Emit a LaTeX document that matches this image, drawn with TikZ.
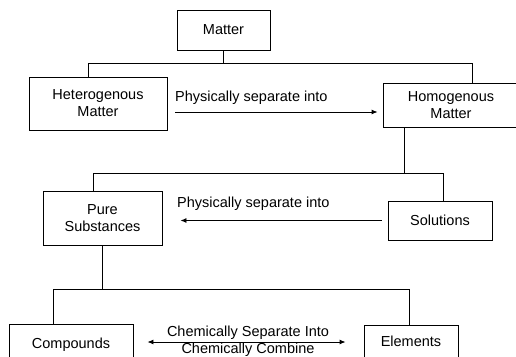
\documentclass[tikz,border=0pt]{standalone}
\usepackage{fontspec}
\setmainfont{Liberation Sans}
\usetikzlibrary{positioning,calc,arrows.meta}

\tikzset{
  box/.style={draw, line width=0.9pt, align=center, inner sep=0pt,
    font=\fontsize{14.5}{17}\selectfont},
  link/.style={line width=0.9pt},
  sep/.style={line width=0.9pt, -{Latex[length=6pt,width=5pt]}},
  both/.style={line width=0.9pt, {Latex[length=6pt,width=5pt]}-{Latex[length=6pt,width=5pt]}},
  lbl/.style={inner sep=0pt, font=\fontsize{14.5}{17}\selectfont}
}

\begin{document}
\begin{tikzpicture}[x=1pt,y=-1pt]

\useasboundingbox (0,0) rectangle (516,356);
\clip (0,0) rectangle (516,356);

\node[box, minimum width=93pt, minimum height=40pt] (matter) at (223.5,30) {Matter};
\node[box, minimum width=138pt, minimum height=53pt] (hetero) at (98,103.5) {Heterogenous\\Matter};
\node[box, minimum width=136pt, minimum height=44pt] (homo) at (451,105) {Homogenous\\Matter};
\node[box, minimum width=119pt, minimum height=54pt] (pure) at (102.5,218) {Pure\\Substances};
\node[box, minimum width=104pt, minimum height=39pt] (solutions) at (440,220.5) {Solutions};
\node[box, minimum width=124pt, minimum height=42pt] (compounds) at (71,345) {Compounds};
\node[box, minimum width=94pt, minimum height=32pt] (elements) at (411,341) {Elements};

\coordinate (bar1) at (0,63);
\coordinate (bar2) at (0,173);
\coordinate (bar3) at (0,289);

\coordinate (hetleg) at ([xshift=-10pt]hetero.north);
\coordinate (homleg) at ([xshift=21pt]homo.north);
\draw[link] (matter.south) -- (matter.south |- bar1);
\draw[link] (hetleg) -- (hetleg |- bar1) -- (homleg |- bar1) -- (homleg);

\coordinate (homstem) at ([xshift=-47pt]homo.south);
\coordinate (pureleg) at ([xshift=-9.5pt]pure.north);
\coordinate (solleg) at ([xshift=3pt]solutions.north);
\draw[link] (homstem) -- (homstem |- bar2);
\draw[link] (pureleg) -- (pureleg |- bar2) -- (solleg |- bar2) -- (solleg);

\coordinate (compleg) at ([xshift=-18pt]compounds.north);
\coordinate (elemleg) at ([xshift=-2pt]elements.north);
\draw[link] (pure.south) -- (pure.south |- bar3);
\draw[link] (compleg) -- (compleg |- bar3) -- (elemleg |- bar3) -- (elemleg);

\coordinate (a1) at ([xshift=8pt,yshift=-8.5pt]hetero.east);
\coordinate (a2) at ([xshift=-6pt]solutions.west);
\coordinate (a3) at ([xshift=14pt,yshift=3pt]compounds.east);

\draw[sep] (a1) -- ([xshift=-5pt]a1 -| homo.west);
\node[lbl, anchor=west] (lbl1) at (175,98) {Physically separate into};

\draw[sep] (a2) -- ([xshift=18pt]a2 -| pure.east);
\node[lbl, anchor=west] (lbl2) at (177,204) {Physically separate into};

\draw[both] (a3) -- ([xshift=-18pt]a3 -| elements.west);
\node[lbl] (lbl3) at (248,332.5) {Chemically Separate Into};
\node[lbl] (lbl4) at (248,349.5) {Chemically Combine};

\end{tikzpicture}
\end{document}
